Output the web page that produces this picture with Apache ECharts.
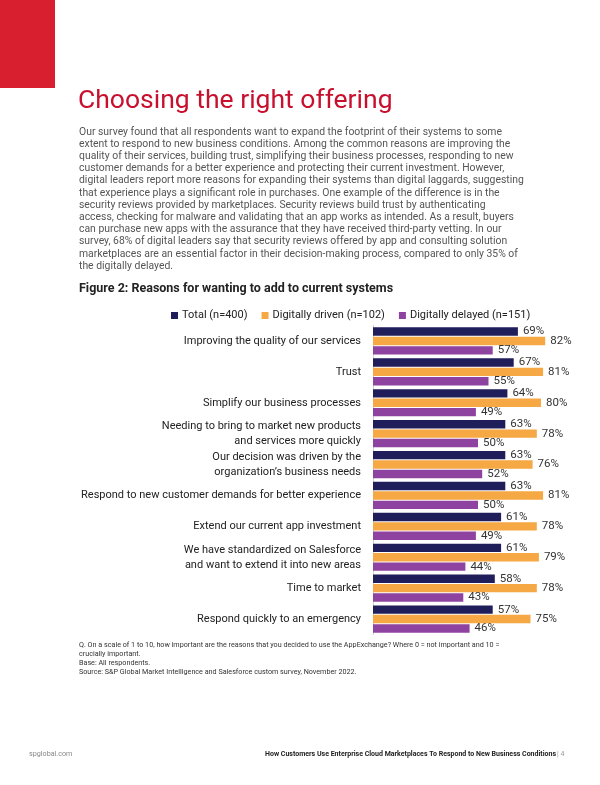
<!DOCTYPE html>
<html><head><meta charset="utf-8">
<script src="https://cdn.jsdelivr.net/npm/echarts@6/dist/echarts.min.js"></script>
<style>html,body{margin:0;padding:0;background:#fff}#c{width:600px;height:785px}</style>
</head><body><div id="c"></div>
<script>
const categories = [
  "Improving the quality of our services",
  "Trust",
  "Simplify our business processes",
  "Needing to bring to market new products\nand services more quickly",
  "Our decision was driven by the\norganization’s business needs",
  "Respond to new customer demands for better experience",
  "Extend our current app investment",
  "We have standardized on Salesforce\nand want to extend it into new areas",
  "Time to market",
  "Respond quickly to an emergency"
];
const seriesNames = ["Total (n=400)", "Digitally driven (n=102)", "Digitally delayed (n=151)"];
const total   = [69, 67, 64, 63, 63, 63, 61, 61, 58, 57];
const driven  = [82, 81, 80, 78, 76, 81, 78, 79, 78, 75];
const delayed = [57, 55, 49, 50, 52, 50, 49, 44, 43, 46];
const colors = ["#201d5b", "#f5a843", "#8f43a0"];

const paragraph = [
  "Our survey found that all respondents want to expand the footprint of their systems to some",
  "extent to respond to new business conditions. Among the common reasons are improving the",
  "quality of their services, building trust, simplifying their business processes, responding to new",
  "customer demands for a better experience and protecting their current investment. However,",
  "digital leaders report more reasons for expanding their systems than digital laggards, suggesting",
  "that experience plays a significant role in purchases. One example of the difference is in the",
  "security reviews provided by marketplaces. Security reviews build trust by authenticating",
  "access, checking for malware and validating that an app works as intended. As a result, buyers",
  "can purchase new apps with the assurance that they have received third-party vetting. In our",
  "survey, 68% of digital leaders say that security reviews offered by app and consulting solution",
  "marketplaces are an essential factor in their decision-making process, compared to only 35% of",
  "the digitally delayed."
].join("\n");
const notes = [
  "Q. On a scale of 1 to 10, how important are the reasons that you decided to use the AppExchange? Where 0 = not important and 10 =",
  "crucially important.",
  "Base: All respondents.",
  "Source: S&P Global Market Intelligence and Salesforce custom survey, November 2022."
].join("\n");

const FONT = "Roboto, 'Liberation Sans', sans-serif";
const chart = echarts.init(document.getElementById('c'), null, {renderer: 'canvas'});
const dataSets = [total, driven, delayed];
chart.setOption({
  animation: false,
  textStyle: {fontFamily: FONT},
  legend: {
    left: 166, top: 305, itemWidth: 7, itemHeight: 7, itemGap: 14, icon: 'rect',
    textStyle: {fontSize: 11, color: '#222', fontFamily: FONT, padding: [0, 0, 0, -1]},
    data: seriesNames
  },
  grid: {left: 373, top: 325.5, width: 210, height: 309},
  xAxis: {type: 'value', min: 0, max: 100, show: false},
  yAxis: {
    type: 'category', data: categories, inverse: true,
    axisLine: {show: true, lineStyle: {color: '#d0d0d0', width: 1}},
    axisTick: {show: false},
    axisLabel: {fontSize: 11, color: '#222', margin: 12, lineHeight: 15, align: 'right', fontFamily: FONT}
  },
  series: seriesNames.map((n, i) => ({
    name: n, type: 'bar', data: dataSets[i], barWidth: 8.4, barGap: '12%', barCategoryGap: '11%',
    itemStyle: {color: colors[i]},
    label: {show: true, position: 'right', distance: 5, formatter: '{c}%', fontSize: 11.5, color: '#333', fontFamily: FONT}
  })),
  graphic: [
    {type: 'rect', shape: {x: 0, y: 0, width: 55, height: 88}, style: {fill: '#d71f30'}},
    {type: 'text', x: 78, y: 88, style: {text: 'Choosing the right offering', fontSize: 26.5, fill: '#c8102e', fontFamily: FONT}},
    {type: 'text', x: 79, y: 126, style: {text: paragraph, fontSize: 10.4, lineHeight: 12.2, fill: '#555', fontFamily: FONT}},
    {type: 'text', x: 79, y: 282, style: {text: 'Figure 2: Reasons for wanting to add to current systems', fontSize: 12.5, fontWeight: 'bold', fill: '#222', fontFamily: FONT}},
    {type: 'text', x: 79, y: 641, style: {text: notes, fontSize: 7.2, lineHeight: 9, fill: '#333', fontFamily: FONT}},
    {type: 'text', x: 29, y: 751, style: {text: 'spglobal.com', fontSize: 7.2, fill: '#888', fontFamily: FONT}},
    {type: 'text', x: 556, y: 751, style: {text: 'How Customers Use Enterprise Cloud Marketplaces To Respond to New Business Conditions', fontSize: 7, fontWeight: 'bold', fill: '#222', align: 'right', fontFamily: FONT}},
    {type: 'text', x: 557, y: 751, style: {text: '| 4', fontSize: 7, fill: '#999', fontFamily: FONT}}
  ]
});
</script></body></html>
